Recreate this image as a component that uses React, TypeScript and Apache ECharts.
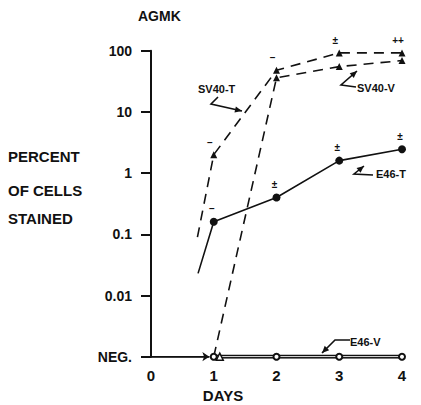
import React, { useEffect, useRef } from "react";
import * as echarts from "echarts";

const NEG = 0.001;
const xTickLabels = ["0", "1", "2", "3", "4"];
const yTickLabels = ["NEG.", "0.01", "0.1", "1", "10", "100"];

// [day, percent of cells stained]
const sv40T: number[][] = [[0.74, 0.09], [1, 2.0], [2, 48], [3, 92], [4, 92]];
const sv40TMarks = ["", "–", "–", "±", "++"];
const sv40V: number[][] = [[1, NEG], [2, 36], [3, 55], [4, 69]];
const e46T: number[][] = [[0.75, 0.023], [1, 0.16], [2, 0.4], [3, 1.6], [4, 2.45]];
const e46TMarks = ["", "–", "±", "±", "±"];
const e46V: number[][] = [[1, NEG], [2, NEG], [3, NEG], [4, NEG]];
const negLead: number[][] = [[0, NEG], [0.93, NEG]];

const FONT = "Liberation Sans";

function arrowHead(tip: number[], from: number[], size: number) {
  const dx = tip[0] - from[0];
  const dy = tip[1] - from[1];
  const len = Math.sqrt(dx * dx + dy * dy) || 1;
  const ux = dx / len;
  const uy = dy / len;
  const bx = tip[0] - ux * size;
  const by = tip[1] - uy * size;
  const px = -uy * size * 0.45;
  const py = ux * size * 0.45;
  return [tip, [bx + px, by + py], [bx - px, by - py]];
}

function pointer(pts: number[][]) {
  const n = pts.length;
  return [
    {
      type: "polyline",
      shape: { points: pts },
      style: { stroke: "#111", lineWidth: 1.6, fill: "none" },
    },
    {
      type: "polygon",
      shape: { points: arrowHead(pts[n - 1], pts[n - 2], 7) },
      style: { fill: "#111" },
    },
  ];
}

function txt(x: number, y: number, text: string, size: number, align = "left") {
  return {
    type: "text",
    x,
    y,
    style: {
      text,
      fontFamily: FONT,
      fontWeight: "bold",
      fontSize: size,
      fill: "#111",
      textAlign: align,
      textVerticalAlign: "middle",
    },
  };
}

export default function App() {
  const ref = useRef<HTMLDivElement>(null);
  useEffect(() => {
    if (!ref.current) return;
    const chart = echarts.init(ref.current, null, { renderer: "svg" });
    const markLabel = (marks: string[], dx: number) => (d: number[], i: number) => ({
      value: d,
      symbol: marks[i] === "" && i === 0 ? "none" : undefined,
      label: {
        show: marks[i] !== "",
        formatter: marks[i],
        position: "top",
        offset: [dx, 1],
        fontSize: 10,
        fontWeight: "bold",
        color: "#111",
        fontFamily: FONT,
      },
    });
    chart.setOption({
      animation: false,
      backgroundColor: "#fff",
      grid: { left: 151, right: 19, top: 50.7, bottom: 48.3 },
      xAxis: {
        type: "value",
        min: 0,
        max: 4,
        interval: 1,
        axisLine: { show: false },
        axisTick: { show: false },
        splitLine: { show: false },
        axisLabel: {
          margin: 11,
          fontSize: 15,
          fontWeight: "bold",
          fontFamily: FONT,
          color: "#111",
          formatter: (v: number) => xTickLabels[Math.round(v)] ?? "",
        },
      },
      yAxis: {
        type: "log",
        logBase: 10,
        min: NEG,
        max: 100,
        splitLine: { show: false },
        axisLine: { show: true, lineStyle: { color: "#111", width: 2 } },
        axisTick: { show: true, length: 10, lineStyle: { color: "#111", width: 2 } },
        axisLabel: {
          margin: 19,
          fontSize: 14,
          fontWeight: "bold",
          fontFamily: FONT,
          color: "#111",
          formatter: (v: number) => yTickLabels[Math.round(Math.log10(v)) + 3] ?? "",
        },
      },
      series: [
        {
          name: "lead",
          type: "line",
          data: negLead,
          symbol: "none",
          lineStyle: { color: "#111", width: 1.6 },
          markLine: {
            silent: true,
            symbol: ["none", "arrow"],
            symbolSize: 7,
            label: { show: false },
            lineStyle: { color: "#111", width: 1.6, type: "solid" },
            data: [[{ coord: negLead[0] }, { coord: negLead[1] }]],
          },
        },
        {
          name: "E46-V line",
          type: "line",
          data: e46V,
          symbol: "none",
          lineStyle: { color: "#111", width: 4 },
          z: 2,
        },
        {
          name: "E46-V gap",
          type: "line",
          data: e46V,
          symbol: "none",
          lineStyle: { color: "#fff", width: 1 },
          z: 3,
        },
        {
          name: "E46-V",
          type: "line",
          data: e46V,
          symbol: "circle",
          symbolSize: 6,
          itemStyle: { color: "#fff", borderColor: "#111", borderWidth: 2 },
          lineStyle: { opacity: 0 },
          z: 6,
        },
        {
          name: "SV40-T",
          type: "line",
          data: sv40T.map(markLabel(sv40TMarks, -4)),
          symbol: "triangle",
          symbolSize: 7,
          itemStyle: { color: "#111" },
          lineStyle: { color: "#111", width: 1.6, type: [10, 7] },
          z: 4,
        },
        {
          name: "SV40-V",
          type: "line",
          data: sv40V.map((d, i) =>
            i === 0 ? { value: d, symbolOffset: [6, 0], itemStyle: { color: "#fff", borderColor: "#111", borderWidth: 1.5 } } : d
          ),
          symbol: "triangle",
          symbolSize: 7,
          itemStyle: { color: "#111" },
          lineStyle: { color: "#111", width: 1.6, type: [10, 7] },
          z: 4,
        },
        {
          name: "E46-T",
          type: "line",
          data: e46T.map(markLabel(e46TMarks, -2)),
          symbol: "circle",
          symbolSize: 8,
          itemStyle: { color: "#111" },
          lineStyle: { color: "#111", width: 1.6 },
          z: 5,
        },
      ],
      graphic: [
        txt(138, 16, "AGMK", 14),
        txt(8, 156, "PERCENT", 15),
        txt(8, 190, "OF CELLS", 15),
        txt(8, 218, "STAINED", 15),
        txt(223, 395, "DAYS", 15, "center"),
        txt(198, 89, "SV40-T", 11),
        txt(357, 88, "SV40-V", 11),
        txt(376, 174, "E46-T", 11),
        txt(350, 342, "E46-V", 11),
        ...pointer([[218, 97], [211, 104], [242, 111]]),
        ...pointer([[356, 87], [341, 85], [357, 71]]),
        ...pointer([[373, 175], [354, 174], [364, 166]]),
        ...pointer([[350, 340], [335, 340], [322, 353]]),
      ],
    });
    return () => chart.dispose();
  }, []);
  return (
    <div
      ref={ref}
      style={{ position: "fixed", left: 0, top: 0, width: 421, height: 405, background: "#fff" }}
    />
  );
}
